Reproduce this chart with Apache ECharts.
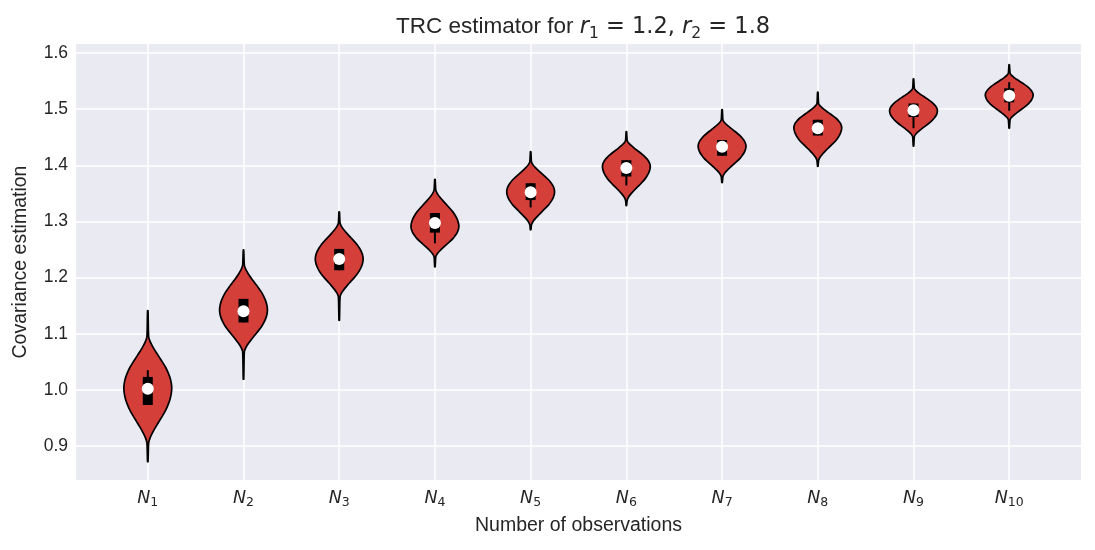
<!DOCTYPE html>
<html>
<head>
<meta charset="utf-8">
<script src="https://cdn.jsdelivr.net/npm/echarts@6/dist/echarts.min.js"></script>
<style>
  html, body { margin: 0; padding: 0; background: #fff; }
  #chart { width: 1095px; height: 550px; }
</style>
</head>
<body>
<div id="chart"></div>
<script>
// Violin summary per group N1..N10
const categories = ['1', '2', '3', '4', '5', '6', '7', '8', '9', '10'];
const minVals = [0.872, 1.019, 1.124, 1.219, 1.285, 1.328, 1.369, 1.398, 1.434, 1.466];
const maxVals = [1.141, 1.249, 1.317, 1.375, 1.424, 1.460, 1.499, 1.530, 1.554, 1.579];
const peakVals = [1.003, 1.142, 1.233, 1.291, 1.353, 1.398, 1.434, 1.467, 1.497, 1.525];
const bodyLoVals = [0.905, 1.068, 1.166, 1.237, 1.294, 1.338, 1.380, 1.409, 1.451, 1.481];
const bodyHiVals = [1.095, 1.222, 1.297, 1.356, 1.406, 1.444, 1.481, 1.510, 1.537, 1.564];
const q1Vals = [0.973, 1.120, 1.213, 1.280, 1.338, 1.380, 1.417, 1.453, 1.486, 1.512];
const q3Vals = [1.023, 1.162, 1.251, 1.315, 1.368, 1.409, 1.445, 1.481, 1.510, 1.537];
const whiskerLoVals = [0.973, 1.120, 1.213, 1.261, 1.325, 1.364, 1.417, 1.453, 1.466, 1.497];
const whiskerHiVals = [1.035, 1.162, 1.251, 1.315, 1.368, 1.409, 1.445, 1.481, 1.510, 1.548];
const medianVals = [1.002, 1.140, 1.233, 1.297, 1.352, 1.395, 1.433, 1.466, 1.498, 1.524];
// relative half-width going from the widest point out to where the body ends
const violinProfile = [1.0, 0.98, 0.93, 0.85, 0.75, 0.62, 0.48, 0.34, 0.21, 0.1, 0.035];
const yTicks = [0.9, 1.0, 1.1, 1.2, 1.3, 1.4, 1.5, 1.6];
const xTicks = categories.map((c, i) => i + 1);

const textColor = '#262626';

const violinData = categories.map((c, i) => [
  i + 1, minVals[i], maxVals[i], peakVals[i], bodyLoVals[i], bodyHiVals[i],
  q1Vals[i], q3Vals[i], whiskerLoVals[i], whiskerHiVals[i], medianVals[i]
]);

function renderViolin(params, api) {
  const x = api.value(0);
  const vMin = api.value(1), vMax = api.value(2), peak = api.value(3);
  const lo = api.value(4), hi = api.value(5);
  const q1 = api.value(6), q3 = api.value(7);
  const wLo = api.value(8), wHi = api.value(9), med = api.value(10);
  const halfW = api.size([0.25, 0])[0];
  const n = violinProfile.length - 1;

  // points bottom -> top as [value, relative width]
  const pts = [[vMin, 0.01]];
  for (let k = n; k >= 1; k--) pts.push([peak - (peak - lo) * k / n, violinProfile[k]]);
  pts.push([peak, violinProfile[0]]);
  for (let k = 1; k <= n; k++) pts.push([peak + (hi - peak) * k / n, violinProfile[k]]);
  pts.push([vMax, 0.01]);

  const cx = api.coord([x, peak])[0];
  const right = pts.map(p => [cx + p[1] * halfW, api.coord([x, p[0]])[1]]);
  const left = pts.slice().reverse().map(p => [cx - p[1] * halfW, api.coord([x, p[0]])[1]]);

  const yQ1 = api.coord([x, q1])[1], yQ3 = api.coord([x, q3])[1];
  const yWLo = api.coord([x, wLo])[1], yWHi = api.coord([x, wHi])[1];
  const yMed = api.coord([x, med])[1];

  return {
    type: 'group',
    children: [
      {
        type: 'polygon',
        shape: { points: right.concat(left), smooth: 0.2 },
        style: { fill: '#D43F3A', stroke: '#000', lineWidth: 1.7 }
      },
      {
        type: 'line',
        shape: { x1: cx, y1: yWLo, x2: cx, y2: yWHi },
        style: { stroke: '#000', lineWidth: 2 }
      },
      {
        type: 'rect',
        shape: { x: cx - 5, y: yQ3, width: 10, height: yQ1 - yQ3 },
        style: { fill: '#000' }
      },
      {
        type: 'circle',
        shape: { cx: cx, cy: yMed, r: 6 },
        style: { fill: '#fff' }
      }
    ]
  };
}

const chart = echarts.init(document.getElementById('chart'), null, { renderer: 'canvas' });

chart.setOption({
  backgroundColor: '#fff',
  animation: false,
  title: {
    text: 'TRC estimator for {r|r}{s|1}{m| = 1.2, }{r|r}{s|2}{m| = 1.8}',
    left: 578,
    top: 7,
    textAlign: 'center',
    textStyle: {
      fontFamily: 'Liberation Sans',
      fontSize: 22.5,
      fontWeight: 'normal',
      color: textColor,
      lineHeight: 30,
      rich: {
        r: { fontFamily: 'DejaVu Sans', fontStyle: 'italic', fontSize: 22.5, color: textColor, lineHeight: 30 },
        s: { fontFamily: 'DejaVu Sans', fontSize: 15.5, color: textColor, lineHeight: 15, verticalAlign: 'bottom' },
        m: { fontFamily: 'DejaVu Sans', fontSize: 22.5, color: textColor, lineHeight: 30 }
      }
    }
  },
  grid: {
    left: 76,
    right: 14,
    top: 44,
    bottom: 70,
    show: true,
    backgroundColor: '#EAEAF2',
    borderWidth: 0
  },
  xAxis: {
    type: 'value',
    min: 0.25,
    max: 10.75,
    name: 'Number of observations',
    nameLocation: 'middle',
    nameGap: 36,
    nameTextStyle: { fontFamily: 'Liberation Sans', fontSize: 19.5, color: textColor },
    axisLine: { show: false },
    axisTick: { show: false, customValues: xTicks },
    axisLabel: {
      customValues: xTicks,
      margin: 7,
      formatter: v => '{n|N}{s|' + v + '}',
      rich: {
        n: { fontFamily: 'DejaVu Sans', fontStyle: 'italic', fontSize: 17.5, color: textColor, lineHeight: 22 },
        s: { fontFamily: 'DejaVu Sans', fontSize: 12.5, color: textColor, lineHeight: 12, verticalAlign: 'bottom' }
      }
    },
    splitLine: { show: true, lineStyle: { color: '#fff', width: 1.5 } }
  },
  yAxis: {
    type: 'value',
    min: 0.8394,
    max: 1.616,
    name: 'Covariance estimation',
    nameLocation: 'middle',
    nameGap: 45,
    nameTextStyle: { fontFamily: 'Liberation Sans', fontSize: 19.5, color: textColor },
    axisLine: { show: false },
    axisTick: { show: false, customValues: yTicks },
    axisLabel: {
      customValues: yTicks,
      margin: 8,
      formatter: v => v.toFixed(1),
      fontFamily: 'Liberation Sans',
      fontSize: 17.5,
      color: textColor
    },
    splitLine: { show: true, lineStyle: { color: '#fff', width: 1.5 } }
  },
  series: [
    {
      type: 'custom',
      renderItem: renderViolin,
      encode: { x: 0, y: [1, 2] },
      data: violinData,
      z: 3
    }
  ]
});
</script>
</body>
</html>
